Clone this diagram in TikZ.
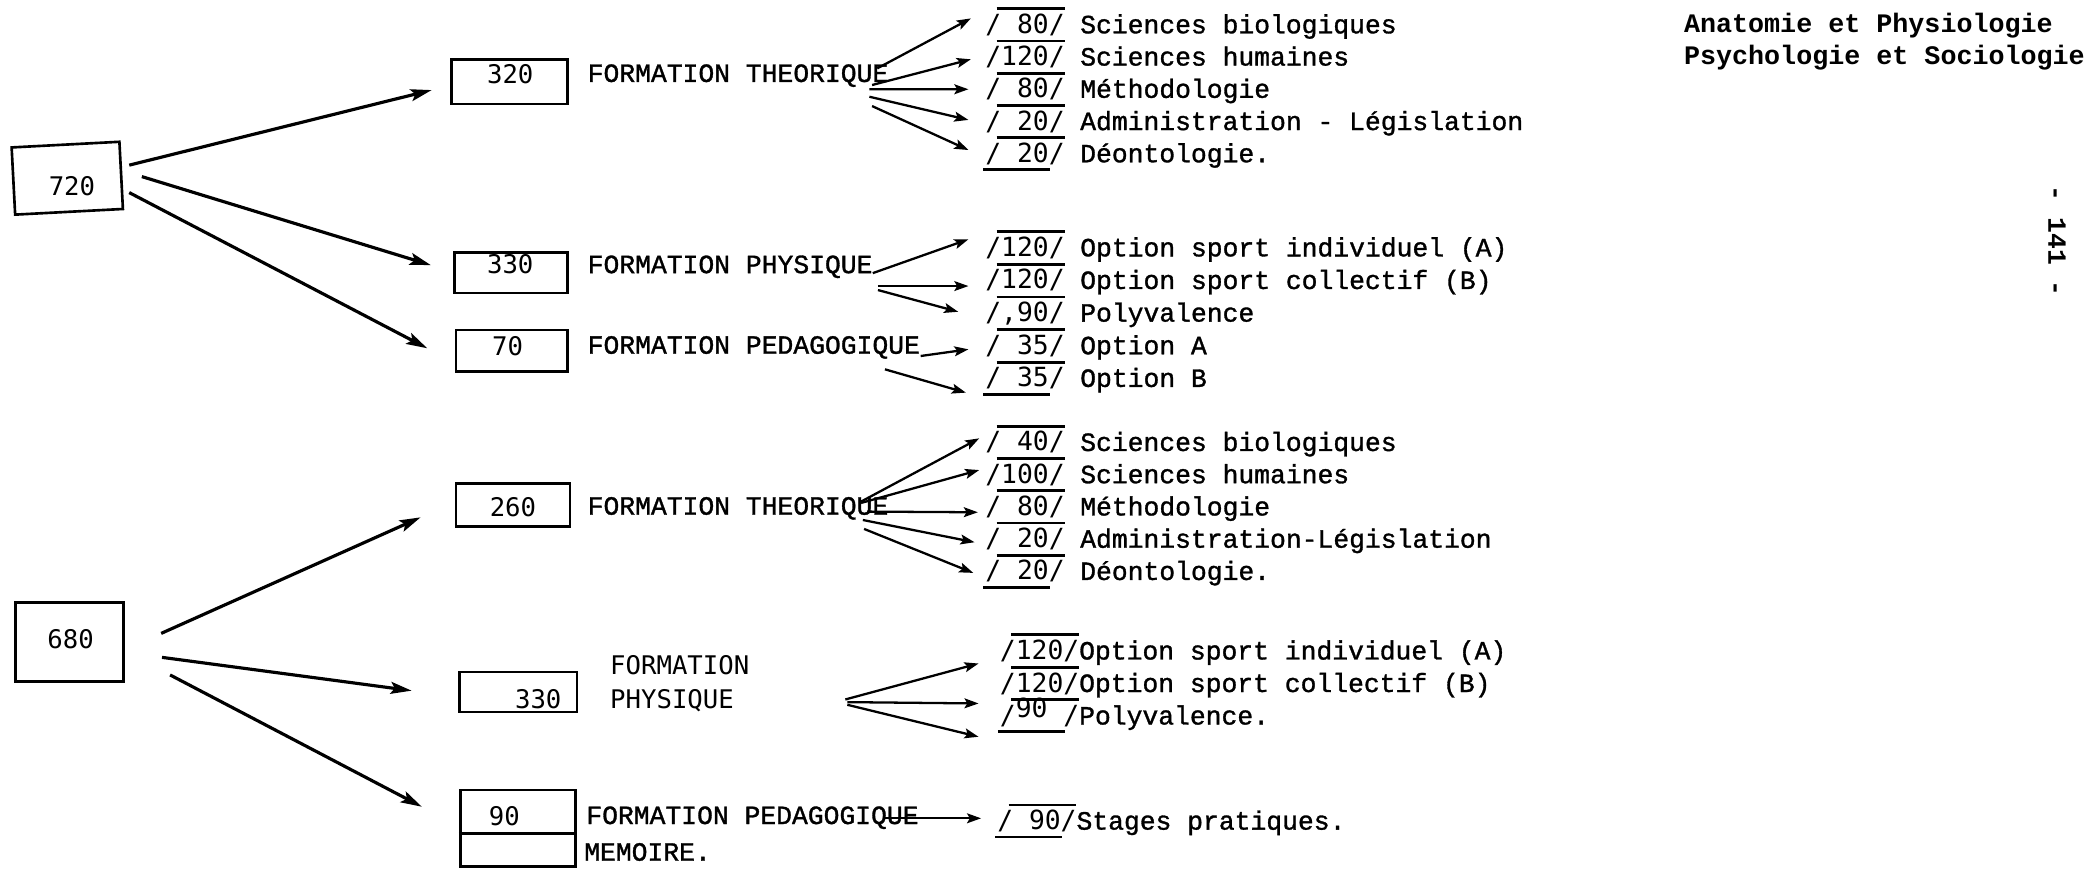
\documentclass[tikz,border=0pt]{standalone}
\usepackage{fontspec}
\usetikzlibrary{arrows.meta,calc,fit}
\newfontfamily\twfont[FakeBold=1.2]{Liberation Mono}
\newfontfamily\twboldfont{Liberation Mono Bold}
\newfontfamily\lgfont{DejaVu Sans Mono}

\tikzset{
  frame/.style={draw, line width=0.75pt, inner sep=0pt},
  boxnum/.style={inner sep=0pt, font=\lgfont\fontsize{7.3}{8}\selectfont},
  head/.style={anchor=base west, inner sep=0pt, font=\twfont\fontsize{7.5}{9}\selectfont},
  headsans/.style={anchor=base west, inner sep=0pt, font=\lgfont\fontsize{7.3}{9}\selectfont},
  cell/.style={anchor=base west, inner sep=0pt, font=\lgfont\fontsize{7.5}{9}\selectfont},
  item/.style={anchor=base west, inner sep=0pt, font=\twfont\fontsize{7.5}{9}\selectfont},
  note/.style={anchor=base west, inner sep=0pt, font=\twboldfont\fontsize{7.6}{9}\selectfont},
  rule/.style={line width=0.8pt},
  bigarrow/.style={line width=0.9pt, -{Stealth[length=6pt,width=3.4pt,inset=1.2pt]}},
  smallarrow/.style={line width=0.65pt, -{Stealth[length=4pt,width=2.8pt,inset=0.8pt]}},
}

% lines above each amount, and one under the last amount of a column
\newcommand{\topline}[1]{\draw[rule] ($(#1.base west)+(9,-18.5)$) -- ++(51,0);}
\newcommand{\bottomline}[1]{\draw[rule] ($(#1.base west)+(-1,5.5)$) -- ++(50,0);}

\begin{document}
\begin{tikzpicture}[x=0.013323cm, y=-0.013323cm]
\fill[white] (0,0) rectangle (1568,655);
\useasboundingbox (0,0) rectangle (1568,655);

% ---------------- first programme (720) ----------------
\node[frame, rotate=3, fit={(10,108.5) (91,159)}] (b720) {};
\node[boxnum] (n720) at (54,140) {720};

\node[frame, fit={(339,44.5) (426,78)}] (b320) {};
\node[boxnum] (n320) at (383,56) {320};
\node[head] (h1) at (440.6,61.5) {FORMATION THEORIQUE};

\node[frame, fit={(341,189.5) (426,220)}] (b330) {};
\node[boxnum] (n330) at (383,198) {330};
\node[head] (h2) at (440.6,205) {FORMATION PHYSIQUE};

\node[frame, fit={(342.4,247.7) (426,279)}] (b70) {};
\node[boxnum] (n70) at (381,260) {70};
\node[head] (h3) at (440.6,265.5) {FORMATION PEDAGOGIQUE};

\draw[bigarrow] ($(b720.center)+(46.5,-9.8)$) -- ($(b320.west)+(-14,6.35)$);
\draw[bigarrow] ($(b720.center)+(56,-1.2)$) -- ($(b330.west)+(-16.6,-5.75)$);
\draw[bigarrow] ($(b720.center)+(46.5,10.8)$) -- ($(b70.west)+(-20.7,-1.95)$);

% theoretical subjects
\node[cell] (c11) at (739,25)    {/ 80/};
\node[item] (l11) at (810.3,25)  {Sciences biologiques};
\node[cell] (c12) at (739,49.2)  {/120/};
\node[item] (l12) at (810.3,49.2) {Sciences humaines};
\node[cell] (c13) at (739,73.4)  {/ 80/};
\node[item] (l13) at (810.3,73.4) {Méthodologie};
\node[cell] (c14) at (739,97.6)  {/ 20/};
\node[item] (l14) at (810.3,97.6) {Administration - Législation};
\node[cell] (c15) at (739,121.8) {/ 20/};
\node[item] (l15) at (810.3,121.8) {Déontologie.};
\foreach \c in {c11,c12,c13,c14,c15} {\topline{\c}}
\bottomline{c15}

\draw[smallarrow] ($(h1.base east)+(-8.8,-10.2)$) -- ($(c11.base west)+(-10.3,-11.2)$);
\draw[smallarrow] ($(h1.base east)+(-12.7,2.3)$)  -- ($(c12.base west)+(-10.3,-4.7)$);
\draw[smallarrow] ($(h1.base east)+(-14.7,5.5)$)  -- ($(c13.base west)+(-12.1,-6.4)$);
\draw[smallarrow] ($(h1.base east)+(-14.7,11.1)$) -- ($(c14.base west)+(-12.1,-7.6)$);
\draw[smallarrow] ($(h1.base east)+(-12.7,18.1)$) -- ($(c15.base west)+(-12.1,-9.2)$);

% physical training
\node[cell] (c21) at (739,192.4) {/120/};
\node[item] (l21) at (810.3,192.4) {Option sport individuel (A)};
\node[cell] (c22) at (739,216.9) {/120/};
\node[item] (l22) at (810.3,216.9) {Option sport collectif (B)};
\node[cell] (c23) at (739,241.4) {/,90/};
\node[item] (l23) at (810.3,241.4) {Polyvalence};
% teaching practice
\node[cell] (c31) at (739,265.9) {/ 35/};
\node[item] (l31) at (810.3,265.9) {Option A};
\node[cell] (c32) at (739,290.4) {/ 35/};
\node[item] (l32) at (810.3,290.4) {Option B};
\foreach \c in {c21,c22,c23,c31,c32} {\topline{\c}}
\bottomline{c32}

\draw[smallarrow] ($(h2.base east)+(-0.3,0)$)  -- ($(c21.base west)+(-12.1,-12.8)$);
\draw[smallarrow] ($(h2.base east)+(3.6,9.7)$)  -- ($(c22.base west)+(-12.1,-2.2)$);
\draw[smallarrow] ($(h2.base east)+(3.6,12.7)$) -- ($(c23.base west)+(-19.8,-7.4)$);
\draw[smallarrow] ($(h3.base east)+(0,1.7)$)    -- ($(c31.base west)+(-12.1,-3.7)$);
\draw[smallarrow] ($(h3.base east)+(-26.8,11.7)$) -- ($(c32.base west)+(-14,4.3)$);

% ---------------- second programme (680) ----------------
\node[frame, fit={(11.7,452.4) (92.8,511.6)}] (b680) {};
\node[boxnum] (n680) at (53,480) {680};

\node[frame, fit={(342.4,362.8) (427.9,395.3)}] (b260) {};
\node[boxnum] (n260) at (385,380.5) {260};
\node[head] (h4) at (440.6,386.3) {FORMATION THEORIQUE};

\node[frame, fit={(345,504.5) (433,534.5)}] (b330b) {};
\node[boxnum] (n330b) at (404,524.5) {330};
\node[headsans] (h5a) at (457.5,506.5) {FORMATION};
\node[headsans] (h5b) at (457.5,531.5) {PHYSIQUE};

\node[frame, fit={(345.5,593) (432.2,650.5)}] (b90) {};
\draw[line width=0.75pt] (b90.west |- 0,625.5) -- (b90.east |- 0,625.5);
\node[boxnum] (n90) at (378.6,612.3) {90};
\node[head] (h6) at (439.6,618.5) {FORMATION PEDAGOGIQUE};
\node[head] (h7) at (438,646) {MEMOIRE.};

\draw[bigarrow] ($(b680.east)+(27.2,-6.6)$) -- ($(b260.west)+(-25.7,9.25)$);
\draw[bigarrow] ($(b680.east)+(27.8,11.4)$) -- ($(b330b.west)+(-35,-1.1)$);
\draw[bigarrow] ($(b680.east)+(33.9,24.6)$) -- ($(b90.west)+(-27.9,-16.25)$);

% theoretical subjects
\node[cell] (c41) at (739,338.5) {/ 40/};
\node[item] (l41) at (810.3,338.5) {Sciences biologiques};
\node[cell] (c42) at (739,362.7) {/100/};
\node[item] (l42) at (810.3,362.7) {Sciences humaines};
\node[cell] (c43) at (739,386.9) {/ 80/};
\node[item] (l43) at (810.3,386.9) {Méthodologie};
\node[cell] (c44) at (739,411.1) {/ 20/};
\node[item] (l44) at (810.3,411.1) {Administration-Législation};
\node[cell] (c45) at (739,435.3) {/ 20/};
\node[item] (l45) at (810.3,435.3) {Déontologie.};
\foreach \c in {c41,c42,c43,c44,c45} {\topline{\c}}
\bottomline{c45}

\draw[smallarrow] ($(h4.base east)+(-21,-9.8)$)  -- ($(c41.base west)+(-4,-9.5)$);
\draw[smallarrow] ($(h4.base east)+(-21,-8.8)$)  -- ($(c42.base west)+(-4,-9.9)$);
\draw[smallarrow] ($(h4.base east)+(-16.2,-2.3)$) -- ($(c43.base west)+(-5,-2.4)$);
\draw[smallarrow] ($(h4.base east)+(-19.6,4)$)   -- ($(c44.base west)+(-7.5,-4.1)$);
\draw[smallarrow] ($(h4.base east)+(-18.7,10.7)$) -- ($(c45.base west)+(-8.5,-5.3)$);

% physical training
\node[cell] (c51) at (750,495)   {/120/};
\node[item] (l51) at (809.5,495) {Option sport individuel (A)};
\node[cell] (c52) at (750,519.4) {/120/};
\node[item] (l52) at (809.5,519.4) {Option sport collectif  (B)};
\node[cell] (c53) at (750,543.8) {/\raisebox{2pt}{90} /};
\node[item] (l53) at (809.5,543.8) {Polyvalence.};
\foreach \c in {c51,c52,c53} {\topline{\c}}
\bottomline{c53}

\coordinate (fork) at (634.5,526);
\draw[smallarrow] ($(fork)+(0,-1)$) -- ($(c51.base west)+(-15.5,3)$);
\draw[smallarrow] ($(fork)+(1.5,1)$) -- ($(c52.base west)+(-15.5,8.6)$);
\draw[smallarrow] ($(fork)+(1.5,3)$) -- ($(c53.base west)+(-15.5,9.2)$);

% teaching practice
\node[cell] (c61) at (748,622.7) {/ 90/};
\node[item] (l61) at (807.5,622.7) {Stages pratiques.};
\topline{c61}
\bottomline{c61}
\draw[smallarrow] ($(h6.base east)+(-25.9,-4.3)$) -- ($(c61.base west)+(-11.6,-8.5)$);

% ---------------- margin ----------------
\node[note] (r1) at (1263.5,24.6) {Anatomie et Physiologie};
\node[note] (r2) at (1263.5,48.3) {Psychologie et Sociologie};
\node[rotate=-90, inner sep=0pt, font=\twboldfont\fontsize{7.5}{9}\selectfont] (folio) at (1544,181) {- 141 -};
\end{tikzpicture}
\end{document}
